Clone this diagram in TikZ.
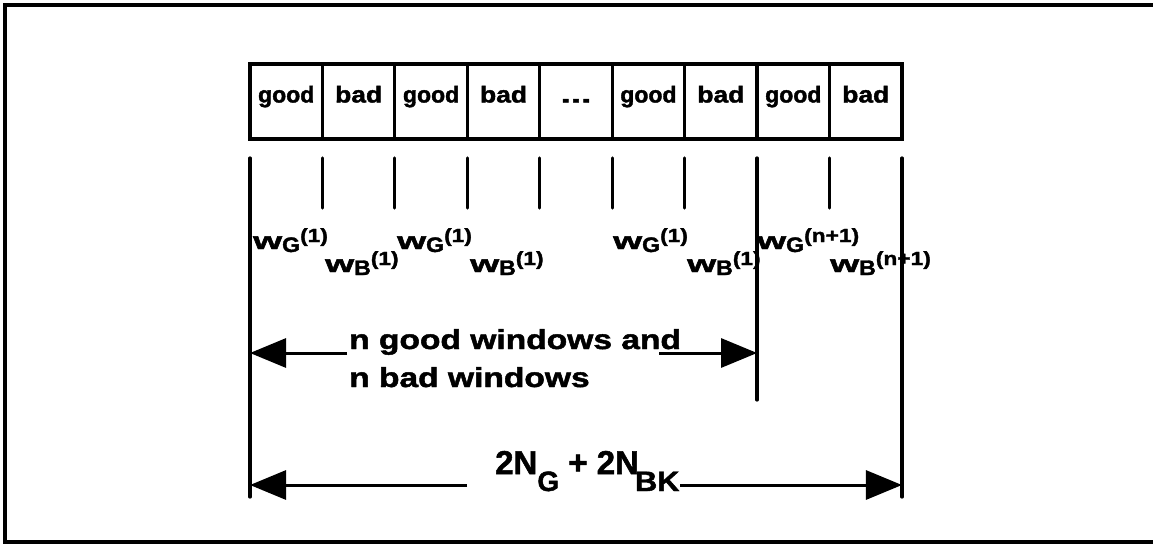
\documentclass[tikz,border=0pt]{standalone}
\usepackage{fontspec}
\setmainfont{Liberation Sans}[BoldFeatures={FakeBold=1.6}]
\usetikzlibrary{arrows.meta}
\newcommand\hsc[2]{\scalebox{#1}[1]{#2}}
\newcommand\fsz[1]{\fontsize{#1}{#1}\selectfont}
\newcommand\wlab[2]{\hsc{1.55}{\fsz{24}w}\raisebox{-3pt}{\hsc{1.1}{\fsz{21}#1}}\raisebox{7pt}{\hsc{1.2}{\fsz{19}(#2)}}}
\tikzset{
  ln/.style={line width=3.2pt, line cap=round},
  cell/.style={draw, line width=3.2pt, minimum width=72.44pt, minimum height=75pt,
    inner sep=0pt, text height=8pt, text depth=6pt, font=\bfseries\fsz{23}},
  lab/.style={inner sep=0pt, anchor=base west, font=\bfseries},
  arr/.style={line width=3pt, -{Triangle[length=36pt,width=29pt]}},
}
\begin{document}
\begin{tikzpicture}[x=1pt,y=-1pt]
\useasboundingbox (0,0) rectangle (1153,544);
% frame (right side lies outside the picture)
\draw[line width=3.2pt] (1170,5) -- (5,5) -- (5,542) -- (1170,542);
% cells
\foreach \t [count=\i] in {good,\hsc{1.15}{bad},good,\hsc{1.15}{bad},\hsc{1.6}{...},good,\hsc{1.15}{bad},good,\hsc{1.15}{bad}}{
  \node[cell] (c\i) at ({250+(\i-0.5)*72.44},101.5) {\t};
}
% ticks
\foreach \i in {1,...,9}{
  \coordinate (ta\i) at ({250+\i*72.44},158);
  \coordinate (tb\i) at ({250+\i*72.44},208);
}
\coordinate (ta0) at (250,158);
\coordinate (tb0) at (250,497);
\coordinate (tb7) at ({250+7*72.44},400);
\coordinate (tb9) at ({250+9*72.44},497);
\foreach \i in {0,...,9}{\draw[ln] (ta\i) -- (tb\i);}
% labels
\node[lab] (l1) at (253,249) {\wlab{G}{1}};
\node[lab] (l2) at (325,272) {\wlab{B}{1}};
\node[lab] (l3) at (397,249) {\wlab{G}{1}};
\node[lab] (l4) at (470,272) {\wlab{B}{1}};
\node[lab] (l5) at (613,249) {\wlab{G}{1}};
\node[lab] (l6) at (687,272) {\wlab{B}{1}};
\node[lab] (l7) at (757,249) {\wlab{G}{n+1}};
\node[lab] (l8) at (830,272) {\wlab{B}{n+1}};
% first dimension
\node[lab] (n1) at (349,349) {\hsc{1.22}{\fsz{27.5}n good windows and}};
\node[lab] (n2) at (349,387) {\hsc{1.22}{\fsz{27.5}n bad windows}};
\coordinate (a1l) at (250,353);
\coordinate (a1le) at (347,353);
\coordinate (a1re) at (659,353);
\coordinate (a1r) at ({250+7*72.44},353);
\draw[arr] (a1le) -- (a1l);
\draw[arr] (a1re) -- (a1r);
% second dimension
\node[lab] (n3) at (495,474) {\fsz{33}2N\raisebox{-17pt}{\fsz{28}G} + 2N\kern-4pt\raisebox{-17pt}{\hsc{1.1}{\fsz{28}BK}}};
\coordinate (a2l) at (250,485);
\coordinate (a2le) at (467,485);
\coordinate (a2re) at (680,485);
\coordinate (a2r) at ({250+9*72.44},485);
\draw[arr] (a2le) -- (a2l);
\draw[arr] (a2re) -- (a2r);
\end{tikzpicture}
\end{document}
